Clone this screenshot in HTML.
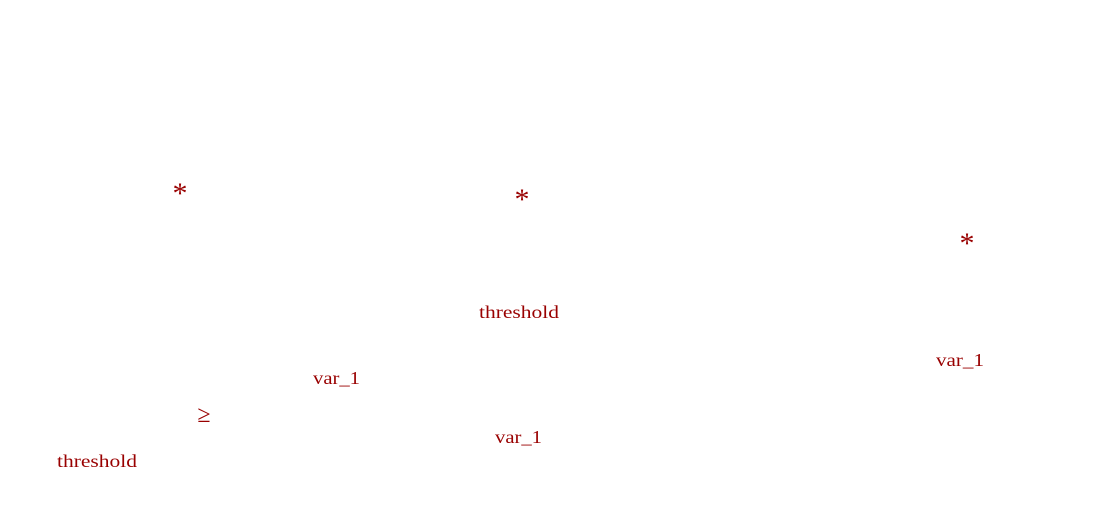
<!DOCTYPE html>
<html><head><meta charset="utf-8"><style>
html,body{margin:0;padding:0;background:#fff;width:1118px;height:516px;overflow:hidden}
svg text{font-family:"Liberation Serif","DejaVu Serif",serif;fill:#990000}
</style></head><body>
<svg width="1118" height="516" xmlns="http://www.w3.org/2000/svg">
<text x="180" y="203" font-size="30" text-anchor="middle">*</text>
<text x="522" y="209" font-size="30" text-anchor="middle">*</text>
<text x="967" y="253" font-size="30" text-anchor="middle">*</text>
<text x="479" y="318" font-size="18" textLength="80" lengthAdjust="spacingAndGlyphs">threshold</text>
<text x="313" y="384" font-size="18" textLength="47" lengthAdjust="spacingAndGlyphs">var_1</text>
<text x="936" y="366" font-size="18" textLength="48" lengthAdjust="spacingAndGlyphs">var_1</text>
<text x="204" y="422" font-size="24" text-anchor="middle">≥</text>
<text x="495" y="443" font-size="18" textLength="47" lengthAdjust="spacingAndGlyphs">var_1</text>
<text x="57" y="467" font-size="18" textLength="80" lengthAdjust="spacingAndGlyphs">threshold</text>
</svg>
</body></html>
